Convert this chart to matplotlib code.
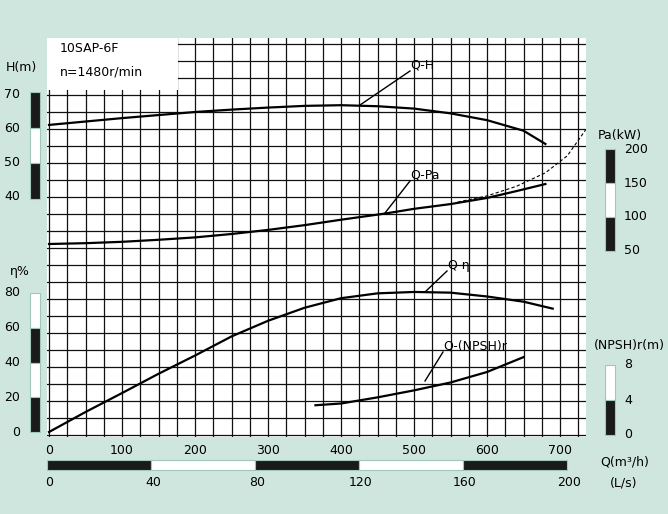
import matplotlib
matplotlib.use("Agg")
import matplotlib.pyplot as plt
from matplotlib.patches import Rectangle

W, H = 668, 514
BG = "#cfe6de"
# data
q_h = [0, 50, 100, 150, 200, 250, 300, 350, 400, 450, 500, 550, 600, 650, 680]
h_vals = [61.2, 62.2, 63.2, 64.1, 65.0, 65.7, 66.3, 66.8, 67.0, 66.7, 66.0, 64.6, 62.6, 59.5, 55.6]
q_pa = [0, 50, 100, 150, 200, 250, 300, 350, 400, 460, 500, 550, 600, 640, 680]
pa_vals = [60.3, 61.5, 63.5, 66.5, 70, 75, 81, 88, 96, 105, 112, 119, 128, 138, 148.5]
q_pa_ext = [560, 600, 640, 680, 710, 735]
pa_ext = [122, 131, 145, 165, 190, 228]
q_eta = [0, 50, 100, 150, 200, 250, 300, 350, 400, 450, 500, 550, 600, 650, 690]
eta_vals = [0, 11.5, 22.4, 33.5, 44, 55, 64, 71.5, 77, 79.8, 80.6, 80.2, 78, 75, 71]
q_npsh = [365, 400, 450, 500, 550, 600, 650]
npsh_vals = [3.4, 3.6, 4.3, 5.1, 6.0, 7.2, 8.9]
q_ticks = [0, 100, 200, 300, 400, 500, 600, 700]
ls_ticks = [0, 40, 80, 120, 160, 200]
h_ticks = [40, 50, 60, 70]
eta_ticks = [0, 20, 40, 60, 80]
pa_ticks = [50, 100, 150, 200]
npsh_ticks = [0, 4, 8]

fig = plt.figure(figsize=(W/100, H/100), dpi=100, facecolor=BG)
def fx(x): return x / W
def fy(y): return 1 - y / H

L, R, T, B = 47, 586, 38, 437
px_per_q = (560 - 49) / 700
xmin = -(49 - L) / px_per_q
xmax = xmin + (R - L) / px_per_q
ax = fig.add_axes([fx(L), fy(B), fx(R) - fx(L), (B - T) / H])
ax.set_facecolor("white")
def lim(v, ypx, ppu):
    return (v - (B - ypx) / ppu, v + (ypx - T) / ppu)
ax.set_xlim(xmin, xmax); ax.set_ylim(*lim(70, 95, 3.4))
for x in range(0, 750, 25):
    ax.axvline(x, color="#111111", lw=0.9, zorder=1)
for y in range(-30, 90, 5):
    ax.axhline(y, color="#111111", lw=0.9, zorder=1)
ax.add_patch(Rectangle((0, 1 - (90 - T) / (B - T)), (178 - L) / (R - L), (90 - T) / (B - T),
                       transform=ax.transAxes, facecolor="white", edgecolor="none", zorder=2))
ax.set_xticks([]); ax.set_yticks([])
for s in ax.spines.values(): s.set_visible(False)
ax.plot(q_h, h_vals, color="black", lw=1.6, zorder=3)

def twin(v, ypx, ppu):
    a = ax.twinx(); a.set_ylim(*lim(v, ypx, ppu)); a.set_yticks([])
    for s in a.spines.values(): s.set_visible(False)
    return a
apa = twin(200, 149, 34 / 50)
apa.plot(q_pa, pa_vals, color="black", lw=1.6, zorder=3)
apa.plot(q_pa_ext, pa_ext, color="black", lw=0.8, ls=(0, (3, 2)), zorder=3)
aeta = twin(80, 293, 139 / 80)
aeta.plot(q_eta, eta_vals, color="black", lw=1.6, zorder=3)
anp = twin(8, 365, 70 / 8)
anp.plot(q_npsh, npsh_vals, color="black", lw=1.6, zorder=3)

fs = 9
def t(x, y, s, **kw):
    kw.setdefault("fontsize", fs)
    fig.text(fx(x), fy(y), s, va="center", **kw)

t(60, 48, "10SAP-6F"); t(60, 72, "n=1480r/min")
for lbl, tx, ty, x1, y1 in [("Q-H", 410, 65, 360, 105), ("Q-Pa", 410, 175, 385, 213),
                            ("Q-η", 447, 265, 425, 292), ("Q-(NPSH)r", 443, 346, 425, 381)]:
    t(tx, ty, lbl)
    fig.add_artist(plt.Line2D([fx(tx), fx(x1)], [fy(ty + 6), fy(y1)], color="black", lw=1))

def bar(x0, x1, y0, y1, segs):
    n = len(segs); h = (y1 - y0) / n
    for i, c in enumerate(segs):
        fig.add_artist(Rectangle((fx(x0), fy(y0 + (i + 1) * h)), fx(x1) - fx(x0), h / H,
                                 facecolor=c, edgecolor="#9fc7bb", lw=0.8))
k, w = "#1a1a1a", "white"
bar(30, 40, 92, 199, [k, w, k])
bar(30, 40, 293, 432, [w, k, w, k])
bar(605, 615, 149, 251, [k, w, k])
bar(605, 615, 365, 435, [w, k])
for i, c in enumerate([k, w, k, w, k]):
    fig.add_artist(Rectangle((fx(47 + i * 104), fy(470)), 104 / W, 10 / H, facecolor=c,
                             edgecolor="#9fc7bb", lw=0.8))

for v in h_ticks: t(20, 95 + (70 - v) * 3.4, str(v), ha="right")
for v in eta_ticks: t(20, 432 - v * 139 / 80, str(v), ha="right")
for v in pa_ticks: t(624, 149 + (200 - v) * 34 / 50, str(v), ha="left")
for v in npsh_ticks: t(624, 435 - v * 70 / 8, str(v), ha="left")
for v in q_ticks: t(49 + v * px_per_q, 450, str(v), ha="center")
for v in ls_ticks: t(49 + v * 104 / 40, 483, str(v), ha="center")
t(6, 68, "H(m)"); t(10, 272, "η%")
t(598, 135, "Pa(kW)"); t(594, 345, "(NPSH)r(m)")
t(600, 462, "Q(m³/h)"); t(610, 483, "(L/s)")

fig.savefig("out.png", dpi=100, facecolor=BG)
